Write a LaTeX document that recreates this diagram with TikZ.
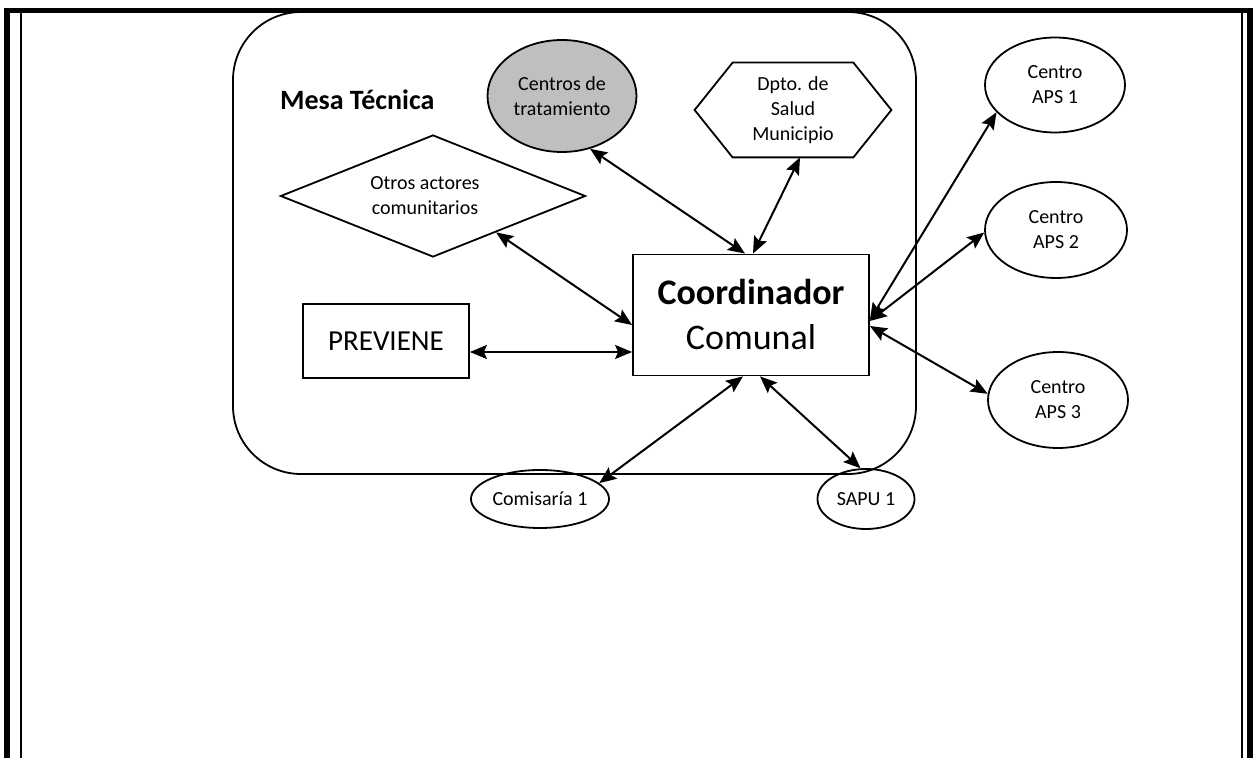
\documentclass[tikz,border=0pt]{standalone}
\usepackage{fontspec}
\setmainfont{Carlito}
\usepackage{tikz}
\usetikzlibrary{arrows.meta,shapes.geometric,positioning,calc}

\newcommand{\smalltxt}{\fontsize{10}{12.5}\selectfont}

\tikzset{
  conn/.style={{Stealth[length=8.5pt,width=7pt,inset=1.5pt]}-{Stealth[length=8.5pt,width=7pt,inset=1.5pt]}, line width=1pt},
  blob/.style={ellipse, draw, line width=0.9pt, inner sep=0pt, align=center, font=\smalltxt},
  box/.style={rectangle, draw, line width=0.9pt, inner sep=0pt, align=center},
}

\begin{document}
\begin{tikzpicture}[x=0.5pt,y=-0.5pt]
\useasboundingbox (0,0) rectangle (1260,758);

% page frame
\draw[line width=2.6pt] (7,758) -- (7,10.5) -- (1250,10.5) -- (1250,758);
\draw[line width=0.8pt] (21,12) -- (21,758);
\draw[line width=0.8pt] (1242,12) -- (1242,758);

% mesa tecnica
\node[box, rounded corners=34pt, minimum width=341.5pt, minimum height=231pt] (mesa) at (574.5,243) {};
\node[anchor=west, font=\fontsize{14}{16}\selectfont\bfseries] (mesalbl) at (273,100) {Mesa Técnica};

\node[blob, fill=black!25, minimum width=74.5pt, minimum height=56pt] (ctr) at (562,96) {Centros de\\tratamiento};
\node[rectangle, inner sep=0pt, align=center, font=\smalltxt, minimum width=98pt, minimum height=47pt] (dpto) at (793,110) {Dpto. de\\Salud\\Municipio};
\draw[line width=0.9pt] (dpto.west) -- ([xshift=19pt]dpto.north west) -- ([xshift=-19pt]dpto.north east)
  -- (dpto.east) -- ([xshift=-19pt]dpto.south east) -- ([xshift=19pt]dpto.south west) -- cycle;
\node[diamond, draw, line width=0.9pt, inner sep=0pt, shape aspect=2.5, align=center, font=\smalltxt,
  minimum width=152.5pt, minimum height=61pt] (otros) at (433,196) {Otros actores\hspace*{8pt}\\comunitarios\hspace*{8pt}};
\node[box, font=\fontsize{14.5}{17}\selectfont, minimum width=83pt, minimum height=37pt] (prev) at (386,341) {PREVIENE};
\node[box, font=\fontsize{18}{22.5}\selectfont, minimum width=118pt, minimum height=60.5pt] (coord) at (751,315) {\textbf{Coordinador}\\Comunal};

% centros externos
\node[blob, minimum width=70pt, minimum height=47.5pt] (aps1) at (1055,85) {Centro\\APS 1};
\node[blob, minimum width=71pt, minimum height=48pt] (aps2) at (1056,230) {Centro\\APS 2};
\node[blob, minimum width=70pt, minimum height=48pt] (aps3) at (1058,400) {Centro\\APS 3};
\node[blob, minimum width=69pt, minimum height=29pt] (com) at (540,499) {Comisaría 1};
\node[blob, minimum width=48.5pt, minimum height=30pt] (sapu) at (866,499) {SAPU 1};

\path ($(coord.north)+(-6,0)$) edge[conn] (ctr.298)
      ($(coord.north)+(2,0)$) edge[conn] ($(dpto.south)+(7,0)$)
      ($(coord.west)+(0,10)$) edge[conn] (otros.330)
      ($(coord.west)+(0,37)$) edge[conn] ($(prev.east)+(0,11)$);
\path ($(coord.east)+(0,5)$) edge[conn] (aps1.205)
      ($(coord.east)+(0,6)$) edge[conn] (aps2.182)
      ($(coord.east)+(0,11)$) edge[conn] (aps3.175);
\path ($(coord.south)+(-8,0)$) edge[conn] (com.15)
      ($(coord.south)+(9,0)$) edge[conn] (sapu.100);
\end{tikzpicture}
\end{document}
